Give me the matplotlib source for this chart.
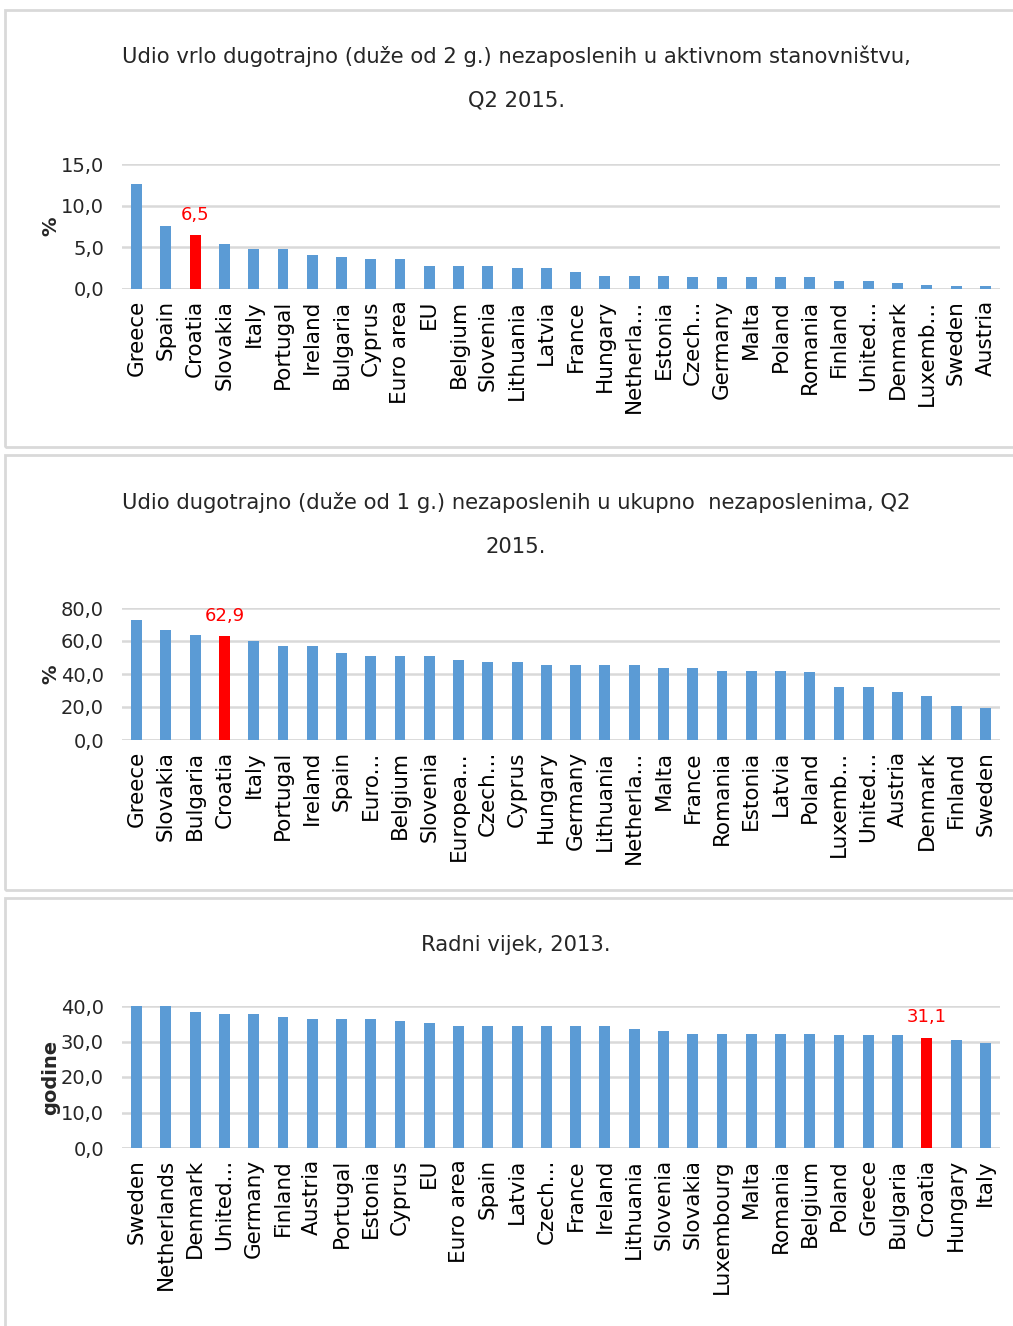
import matplotlib
matplotlib.use("Agg")
import matplotlib.pyplot as plt
from matplotlib.patches import Rectangle

# Panel 1: very long-term unemployment share of active population, Q2 2015
countries_1 = ["Greece", "Spain", "Croatia", "Slovakia", "Italy", "Portugal",
               "Ireland", "Bulgaria", "Cyprus", "Euro area", "EU", "Belgium",
               "Slovenia", "Lithuania", "Latvia", "France", "Hungary",
               "Netherla...", "Estonia", "Czech...", "Germany", "Malta",
               "Poland", "Romania", "Finland", "United...", "Denmark",
               "Luxemb...", "Sweden", "Austria"]
values_1 = [12.6, 7.6, 6.5, 5.4, 4.8, 4.8, 4.1, 3.9, 3.6, 3.6, 2.8, 2.8,
            2.8, 2.5, 2.5, 2.1, 1.6, 1.6, 1.6, 1.4, 1.4, 1.4, 1.4, 1.4,
            1.0, 1.0, 0.7, 0.5, 0.4, 0.4]

# Panel 2: long-term unemployed share of total unemployed, Q2 2015
countries_2 = ["Greece", "Slovakia", "Bulgaria", "Croatia", "Italy",
               "Portugal", "Ireland", "Spain", "Euro...", "Belgium",
               "Slovenia", "Europea...", "Czech...", "Cyprus", "Hungary",
               "Germany", "Lithuania", "Netherla...", "Malta", "France",
               "Romania", "Estonia", "Latvia", "Poland", "Luxemb...",
               "United...", "Austria", "Denmark", "Finland", "Sweden"]
values_2 = [72.9, 66.8, 63.8, 62.9, 60.1, 57.1, 57.1, 52.7, 51.0, 51.0,
            51.0, 48.6, 47.0, 47.0, 45.4, 45.4, 45.4, 45.4, 43.7, 43.7,
            42.1, 42.1, 42.1, 41.1, 32.2, 32.2, 29.2, 26.9, 20.6, 19.2]

# Panel 3: duration of working life, 2013
countries_3 = ["Sweden", "Netherlands", "Denmark", "United...", "Germany",
               "Finland", "Austria", "Portugal", "Estonia", "Cyprus", "EU",
               "Euro area", "Spain", "Latvia", "Czech...", "France",
               "Ireland", "Lithuania", "Slovenia", "Slovakia", "Luxembourg",
               "Malta", "Romania", "Belgium", "Poland", "Greece", "Bulgaria",
               "Croatia", "Hungary", "Italy"]
values_3 = [40.1, 40.0, 38.4, 37.7, 37.7, 37.0, 36.3, 36.3, 36.3, 35.8,
            35.1, 34.5, 34.5, 34.5, 34.4, 34.4, 34.4, 33.6, 32.9, 32.2,
            32.2, 32.2, 32.2, 32.2, 31.7, 31.7, 31.7, 31.1, 30.4, 29.7]

titles = [
    "Udio vrlo dugotrajno (duže od 2 g.) nezaposlenih u aktivnom stanovništvu,\nQ2 2015.",
    "Udio dugotrajno (duže od 1 g.) nezaposlenih u ukupno  nezaposlenima, Q2\n2015.",
    "Radni vijek, 2013.",
]
ylabels = ["%", "%", "godine"]
yticks = [[0, 5, 10, 15], [0, 20, 40, 60, 80], [0, 10, 20, 30, 40]]
highlight = "Croatia"

BLUE = "#5b9bd5"
RED = "#ff0000"
GRID = "#d9d9d9"
TEXT = "#262626"

W, H = 1013, 1326
fig = plt.figure(figsize=(W / 100, H / 100), dpi=100)

# panel frames (pixel coords, top/bottom)
frames = [(10, 447), (455, 890), (898, 1345)]
for top, bottom in frames:
    fig.patches.append(Rectangle((5 / W, 1 - bottom / H), 1.1, (bottom - top) / H,
                                 transform=fig.transFigure, fill=False,
                                 edgecolor=GRID, lw=2))

# axes areas in pixels: (top, bottom)
areas = [(164, 289), (608, 740), (1006, 1148)]
title_y = [78, 525, 945]
ax_left, ax_right = 122, 1000

panels = [(countries_1, values_1), (countries_2, values_2), (countries_3, values_3)]
for i, (cats, vals) in enumerate(panels):
    top, bottom = areas[i]
    ax = fig.add_axes([ax_left / W, 1 - bottom / H, (ax_right - ax_left) / W,
                       (bottom - top) / H])
    x = list(range(len(cats)))
    colors = [RED if c == highlight else BLUE for c in cats]
    ax.bar(x, vals, width=0.37, color=colors, zorder=3)
    ax.set_xlim(-0.5, len(cats) - 0.5)
    ax.set_ylim(0, yticks[i][-1])
    ax.set_yticks(yticks[i])
    ax.set_yticklabels([f"{t:.1f}".replace(".", ",") for t in yticks[i]],
                       fontsize=14, color=TEXT)
    ax.set_xticks(x)
    ax.set_xticklabels(cats, rotation=90, ha="center", va="top",
                       fontsize=15.5, color="black")
    ax.tick_params(length=0)
    ax.tick_params(axis="y", pad=13)
    ax.tick_params(axis="x", pad=8)
    ax.grid(axis="y", color=GRID, lw=1.8, zorder=0)
    for s in ax.spines.values():
        s.set_visible(False)
    ax.axhline(0, color=GRID, lw=1.8, zorder=1)
    ax.set_ylabel(ylabels[i], fontsize=14, fontweight="bold", color=TEXT)
    ax.yaxis.set_label_coords(-62 / (ax_right - ax_left), 0.5)

    # red value label above Croatia
    k = cats.index(highlight)
    ax.annotate(f"{vals[k]:.1f}".replace(".", ","), (k, vals[k]),
                xytext=(0, 8), textcoords="offset points", ha="center",
                va="bottom", color=RED, fontsize=13,
                annotation_clip=False)

    fig.text(516 / W, 1 - title_y[i] / H, titles[i], ha="center", va="center",
             fontsize=15.2, color=TEXT, linespacing=2.5)

fig.savefig("out.png", dpi=100, facecolor="white")
